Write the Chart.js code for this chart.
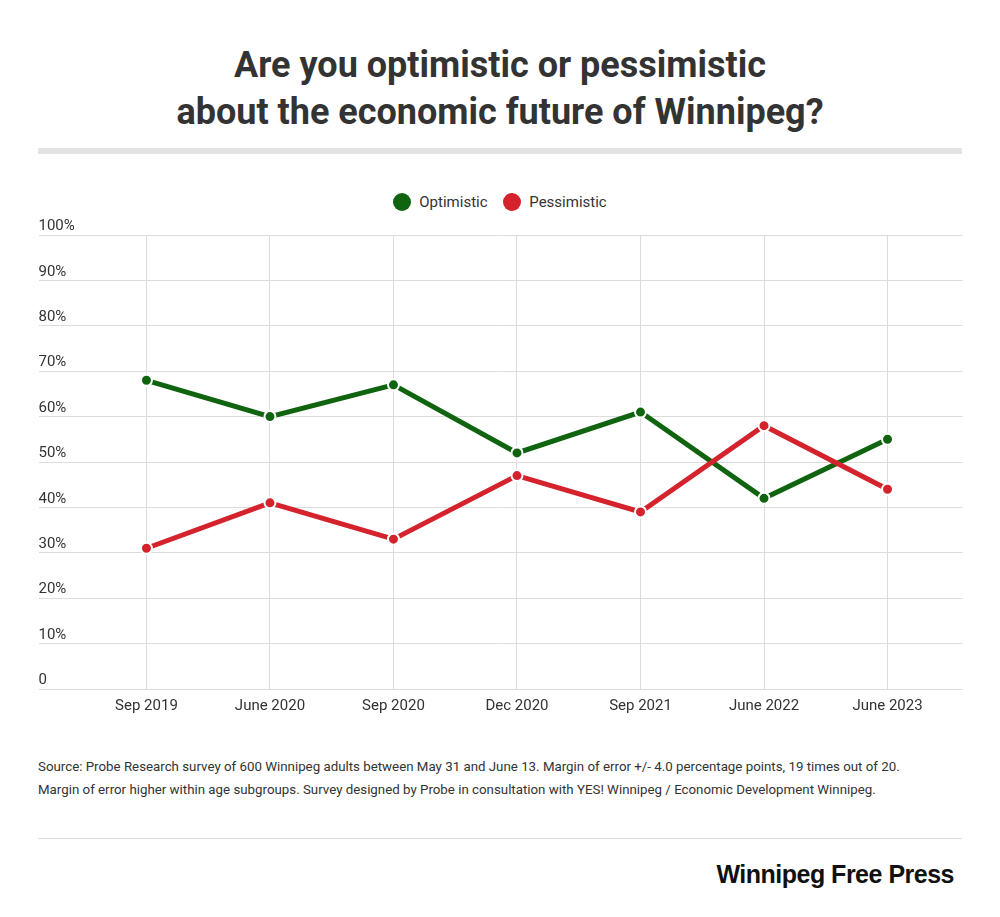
<!DOCTYPE html>
<html lang="en">
<head>
<meta charset="UTF-8">
<title>Winnipeg economic outlook</title>
<script src="https://cdn.jsdelivr.net/npm/chart.js"></script>
<style>
  body { margin: 0; background: #fff; font-family: Roboto, 'Noto Sans', sans-serif; color: #333; }
  #page { position: relative; width: 1000px; height: 917px; }
  h1 { position: absolute; top: 42px; left: 0; width: 1000px; margin: 0; text-align: center;
       font-size: 36px; line-height: 47px; font-weight: 700; color: #333; }
  .bar { position: absolute; left: 38px; width: 924px; top: 148px; height: 6px; background: #e3e3e3; }
  #legend { position: absolute; top: 193px; left: 0; width: 1000px; text-align: center; font-size: 15px; color: #333; }
  #legend span.dot { display: inline-block; width: 18px; height: 18px; border-radius: 50%; vertical-align: -4px; margin: 0 8px 0 0; }
  #legend span.item { margin: 0 6px; }
  #wrap { position: absolute; top: 205px; left: 31px; width: 939px; height: 518px; }
  .source { position: absolute; top: 755px; left: 38px; width: 950px; font-size: 13.3px; line-height: 23px; color: #333; }
  .rule { position: absolute; left: 38px; width: 924px; top: 838px; height: 1px; background: #ddd; }
  .logo { position: absolute; right: 46px; top: 860px; font-family: 'Liberation Sans Narrow', 'Liberation Sans', sans-serif;
          font-weight: 700; font-size: 25px; color: #111; letter-spacing: -0.5px; }
</style>
</head>
<body>
<div id="page">
  <h1>Are you optimistic or pessimistic<br>about the economic future of Winnipeg?</h1>
  <div class="bar"></div>
  <div id="legend">
    <span class="item"><span class="dot" style="background:#10640f"></span>Optimistic</span>
    <span class="item"><span class="dot" style="background:#d4232c"></span>Pessimistic</span>
  </div>
  <div id="wrap"><canvas id="chart"></canvas></div>
  <div class="source">Source: Probe Research survey of 600 Winnipeg adults between May 31 and June 13. Margin of error +/- 4.0 percentage points, 19 times out of 20.<br>Margin of error higher within age subgroups. Survey designed by Probe in consultation with YES! Winnipeg / Economic Development Winnipeg.</div>
  <div class="rule"></div>
  <div class="logo">Winnipeg Free Press</div>
</div>
<script>
  const categories = ['Sep 2019', 'June 2020', 'Sep 2020', 'Dec 2020', 'Sep 2021', 'June 2022', 'June 2023'];
  const optimistic = [68, 60, 67, 52, 61, 42, 55];
  const pessimistic = [31, 41, 33, 47, 39, 58, 44];
  const yTicks = [0, 10, 20, 30, 40, 50, 60, 70, 80, 90, 100];

  const toPoints = (arr) => arr.map((v, i) => ({ x: i, y: v }));

  const yLabels = {
    id: 'yLabels',
    afterDraw(chart) {
      const ctx = chart.ctx;
      const y = chart.scales.y;
      ctx.save();
      ctx.font = '15px Roboto, sans-serif';
      ctx.fillStyle = '#333';
      ctx.textAlign = 'left';
      ctx.textBaseline = 'bottom';
      yTicks.forEach(t => {
        ctx.fillText(t === 0 ? '0' : t + '%', chart.chartArea.left, y.getPixelForValue(t) - 1);
      });
      ctx.restore();
    }
  };

  const ds = (data, color) => ({
    data: toPoints(data),
    borderColor: color,
    backgroundColor: color,
    borderWidth: 5,
    pointRadius: 5.5,
    pointBorderColor: '#fff',
    pointBorderWidth: 2,
    tension: 0
  });

  new Chart(document.getElementById('chart'), {
    type: 'line',
    data: { datasets: [ds(pessimistic, '#d4232c'), ds(optimistic, '#10640f')] },
    plugins: [yLabels],
    options: {
      responsive: true,
      maintainAspectRatio: false,
      animation: false,
      layout: { padding: { top: 30 } },
      plugins: { legend: { display: false }, tooltip: { enabled: false } },
      scales: {
        x: {
          type: 'linear',
          min: -0.874,
          max: 6.607,
          afterBuildTicks: (s) => { s.ticks = categories.map((c, i) => ({ value: i })); },
          ticks: {
            callback: (v) => categories[v],
            color: '#333',
            font: { size: 15, family: 'Roboto' },
            padding: 8
          },
          grid: { color: '#dcdcdc', drawTicks: false },
          border: { display: false }
        },
        y: {
          min: 0,
          max: 100,
          afterBuildTicks: (s) => { s.ticks = yTicks.map(v => ({ value: v })); },
          ticks: { display: false },
          grid: { color: '#dcdcdc', drawTicks: false },
          border: { display: false }
        }
      }
    }
  });
</script>
</body>
</html>
